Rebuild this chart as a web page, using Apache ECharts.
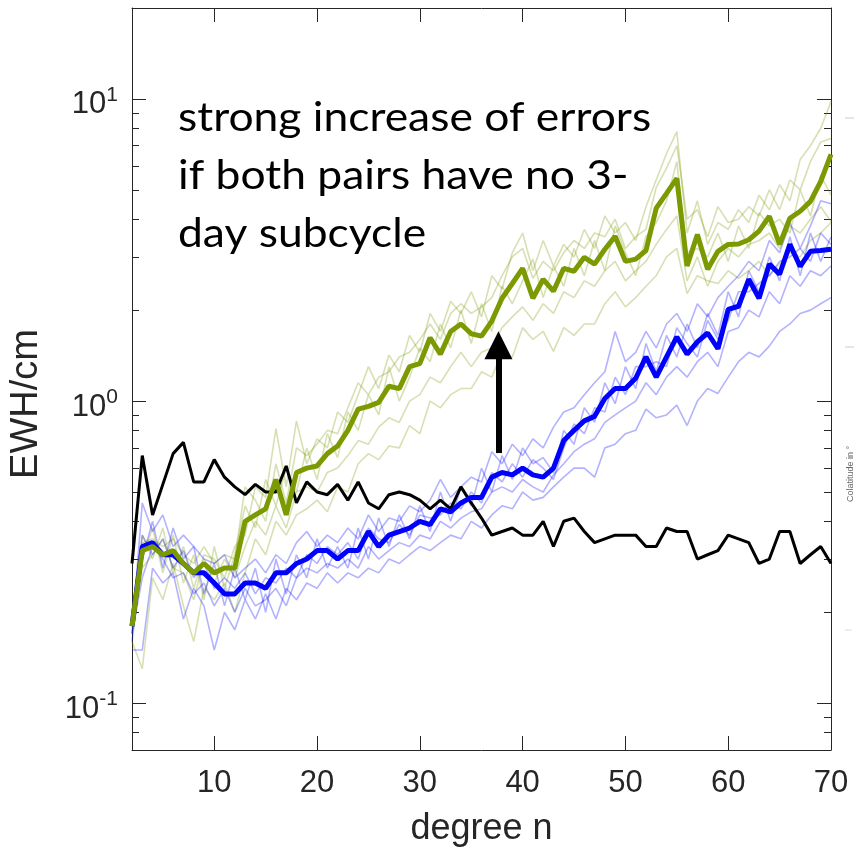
<!DOCTYPE html>
<html>
<head>
<meta charset="utf-8">
<script src="https://cdn.jsdelivr.net/npm/echarts@6/dist/echarts.min.js"></script>
<style>
  html, body { margin: 0; padding: 0; background: #fff; }
  #chart { width: 854px; height: 853px; }
</style>
</head>
<body>
<div id="chart"></div>
<script>
// Spherical harmonic degree
const degrees = [2, 3, 4, 5, 6, 7, 8, 9, 10, 11,
  12, 13, 14, 15, 16, 17, 18, 19, 20, 21,
  22, 23, 24, 25, 26, 27, 28, 29, 30, 31,
  32, 33, 34, 35, 36, 37, 38, 39, 40, 41,
  42, 43, 44, 45, 46, 47, 48, 49, 50, 51,
  52, 53, 54, 55, 56, 57, 58, 59, 60, 61,
  62, 63, 64, 65, 66, 67, 68, 69, 70];

// Reference error curve (black)
const errBlack = [0.29, 0.66, 0.42, 0.53, 0.67, 0.73, 0.54, 0.54, 0.64, 0.56,
  0.52, 0.49, 0.53, 0.50, 0.50, 0.61, 0.46, 0.54, 0.50, 0.49,
  0.53, 0.47, 0.54, 0.46, 0.44, 0.49, 0.50, 0.49, 0.47, 0.44,
  0.47, 0.44, 0.52, 0.46, 0.41, 0.36, 0.37, 0.38, 0.36, 0.36,
  0.40, 0.33, 0.40, 0.41, 0.37, 0.34, 0.35, 0.36, 0.36, 0.36,
  0.33, 0.33, 0.38, 0.37, 0.37, 0.30, 0.31, 0.32, 0.36, 0.35,
  0.34, 0.29, 0.30, 0.37, 0.37, 0.29, 0.31, 0.33, 0.29];

// Mean errors, no 3-day subcycle (green)
const errGreenMean = [0.18, 0.32, 0.33, 0.31, 0.32, 0.29, 0.27, 0.29, 0.27, 0.28,
  0.28, 0.40, 0.42, 0.44, 0.55, 0.42, 0.58, 0.60, 0.61, 0.67,
  0.71, 0.80, 0.94, 0.96, 0.99, 1.12, 1.10, 1.30, 1.33, 1.62,
  1.43, 1.70, 1.80, 1.67, 1.64, 1.84, 2.19, 2.45, 2.75, 2.19,
  2.53, 2.31, 2.75, 2.69, 2.99, 2.84, 3.18, 3.51, 2.90, 2.95,
  3.15, 4.35, 4.87, 5.46, 2.80, 3.56, 2.73, 3.13, 3.30, 3.31,
  3.42, 3.65, 4.09, 3.30, 4.03, 4.25, 4.58, 5.33, 6.55];

// Individual scenarios, no 3-day subcycle (light green)
const errGreen1 = [0.19, 0.36, 0.30, 0.38, 0.27, 0.33, 0.24, 0.31, 0.30, 0.26,
  0.33, 0.36, 0.52, 0.48, 0.81, 0.52, 0.86, 0.62, 0.75, 0.70,
  0.92, 0.85, 1.05, 1.30, 1.10, 1.42, 1.25, 1.65, 1.45, 1.95,
  1.70, 2.14, 1.95, 2.30, 1.90, 2.60, 2.35, 3.10, 3.60, 2.70,
  3.40, 2.80, 3.30, 3.00, 3.70, 3.20, 4.10, 3.60, 3.90, 3.40,
  4.40, 5.40, 6.60, 7.80, 3.60, 4.60, 3.30, 3.90, 3.70, 4.30,
  3.90, 4.80, 4.30, 5.20, 4.60, 6.30, 7.00, 8.00, 9.80];
const errGreen2 = [0.16, 0.13, 0.26, 0.22, 0.29, 0.21, 0.16, 0.24, 0.22, 0.25,
  0.20, 0.27, 0.35, 0.31, 0.40, 0.36, 0.42, 0.44, 0.47, 0.43,
  0.52, 0.50, 0.62, 0.67, 0.64, 0.71, 0.70, 0.83, 0.78, 1.00,
  0.95, 1.05, 1.10, 1.10, 1.25, 1.20, 1.45, 1.40, 1.75, 1.60,
  1.70, 1.46, 1.75, 1.65, 1.80, 1.80, 2.10, 2.30, 2.05, 2.20,
  2.40, 2.60, 3.00, 3.20, 2.27, 2.60, 2.50, 2.45, 2.70, 2.55,
  2.70, 2.90, 2.60, 2.85, 3.10, 3.00, 3.40, 3.60, 3.90];
const errGreen3 = [0.18, 0.30, 0.38, 0.27, 0.36, 0.25, 0.31, 0.22, 0.33, 0.24,
  0.31, 0.45, 0.38, 0.55, 0.45, 0.60, 0.50, 0.70, 0.55, 0.78,
  0.65, 0.92, 0.80, 1.05, 0.90, 1.30, 1.00, 1.20, 1.50, 1.35,
  1.80, 1.50, 2.00, 1.55, 2.10, 1.70, 2.40, 2.10, 2.50, 2.95,
  2.20, 2.80, 2.40, 3.20, 2.60, 3.40, 2.70, 3.80, 3.10, 2.60,
  3.50, 3.90, 4.60, 6.20, 3.10, 3.20, 3.00, 3.60, 2.90, 3.80,
  3.20, 4.20, 3.80, 4.00, 3.60, 5.00, 4.10, 5.60, 4.80];
const errGreen4 = [0.20, 0.34, 0.35, 0.33, 0.35, 0.31, 0.29, 0.33, 0.29, 0.31,
  0.30, 0.52, 0.47, 0.40, 0.62, 0.46, 0.70, 0.66, 0.72, 0.80,
  0.78, 0.95, 1.15, 1.05, 1.20, 1.25, 1.40, 1.45, 1.60, 1.80,
  1.60, 1.95, 2.10, 1.95, 2.05, 2.20, 2.60, 3.00, 3.20, 2.55,
  2.90, 2.70, 3.10, 3.40, 3.20, 3.60, 3.50, 4.00, 3.20, 3.50,
  3.70, 5.10, 5.90, 7.00, 4.00, 4.30, 3.50, 4.40, 3.90, 4.00,
  4.40, 4.10, 5.00, 4.30, 5.40, 5.00, 6.20, 7.20, 7.40];
const errGreen5 = [0.17, 0.28, 0.31, 0.35, 0.28, 0.27, 0.22, 0.30, 0.25, 0.30,
  0.26, 0.33, 0.40, 0.36, 0.45, 0.38, 0.50, 0.52, 0.50, 0.58,
  0.60, 0.66, 0.74, 0.72, 0.82, 0.88, 0.85, 1.00, 1.05, 1.20,
  1.15, 1.30, 1.45, 1.30, 1.45, 1.50, 1.75, 1.90, 2.05, 1.85,
  2.10, 1.95, 2.30, 2.20, 2.50, 2.40, 2.70, 2.90, 2.50, 2.70,
  2.90, 3.30, 3.70, 4.10, 2.50, 3.00, 2.40, 2.90, 3.20, 3.00,
  3.30, 3.40, 3.60, 3.20, 3.80, 3.60, 4.00, 4.40, 3.93];

// Mean errors, with 3-day subcycle (blue)
const errBlueMean = [0.18, 0.33, 0.34, 0.31, 0.31, 0.29, 0.27, 0.27, 0.25, 0.23,
  0.23, 0.25, 0.25, 0.24, 0.27, 0.27, 0.29, 0.30, 0.32, 0.32,
  0.30, 0.32, 0.32, 0.37, 0.33, 0.36, 0.37, 0.38, 0.40, 0.39,
  0.44, 0.43, 0.46, 0.48, 0.48, 0.56, 0.58, 0.57, 0.60, 0.57,
  0.56, 0.60, 0.74, 0.80, 0.86, 0.89, 1.02, 1.10, 1.10, 1.19,
  1.40, 1.20, 1.40, 1.63, 1.43, 1.57, 1.68, 1.49, 2.01, 2.06,
  2.53, 2.19, 2.84, 2.63, 3.30, 2.79, 3.13, 3.15, 3.18];

// Individual scenarios, with 3-day subcycle (light blue)
const errBlue1 = [0.17, 0.46, 0.37, 0.42, 0.33, 0.36, 0.33, 0.30, 0.29, 0.31,
  0.26, 0.28, 0.30, 0.27, 0.31, 0.29, 0.34, 0.37, 0.33, 0.36,
  0.34, 0.38, 0.35, 0.42, 0.37, 0.41, 0.40, 0.45, 0.43, 0.47,
  0.55, 0.48, 0.52, 0.56, 0.54, 0.68, 0.62, 0.72, 0.66, 0.75,
  0.70, 0.82, 0.92, 0.95, 1.05, 1.15, 1.25, 1.70, 1.35, 1.45,
  1.70, 1.50, 1.80, 1.95, 1.70, 2.10, 1.90, 2.20, 2.40, 2.60,
  2.90, 2.70, 3.40, 3.10, 3.90, 3.20, 3.80, 4.60, 4.50];
const errBlue2 = [0.15, 0.15, 0.28, 0.25, 0.27, 0.19, 0.24, 0.21, 0.15, 0.20,
  0.175, 0.22, 0.19, 0.23, 0.19, 0.24, 0.22, 0.25, 0.24, 0.27,
  0.25, 0.27, 0.26, 0.28, 0.27, 0.30, 0.29, 0.31, 0.33, 0.32,
  0.34, 0.36, 0.35, 0.40, 0.38, 0.42, 0.45, 0.44, 0.50, 0.47,
  0.48, 0.52, 0.56, 0.60, 0.60, 0.56, 0.70, 0.72, 0.78, 0.80,
  0.94, 0.88, 0.90, 0.97, 0.83, 1.00, 1.10, 1.06, 1.20, 1.35,
  1.45, 1.40, 1.52, 1.70, 1.80, 1.95, 2.00, 2.10, 2.20];
const errBlue3 = [0.16, 0.30, 0.40, 0.28, 0.38, 0.30, 0.33, 0.23, 0.29, 0.21,
  0.28, 0.22, 0.28, 0.20, 0.30, 0.23, 0.31, 0.26, 0.35, 0.28,
  0.33, 0.28, 0.38, 0.30, 0.41, 0.33, 0.42, 0.35, 0.45, 0.37,
  0.50, 0.40, 0.52, 0.45, 0.60, 0.50, 0.66, 0.55, 0.70, 0.62,
  0.65, 0.58, 0.80, 0.72, 0.95, 0.85, 1.15, 0.98, 1.30, 1.10,
  1.55, 1.25, 1.65, 1.40, 1.80, 1.50, 1.95, 1.65, 2.30, 1.90,
  2.70, 2.30, 3.00, 2.50, 3.50, 2.60, 3.60, 2.90, 3.50];
const errBlue4 = [0.18, 0.36, 0.31, 0.35, 0.28, 0.32, 0.26, 0.29, 0.24, 0.26,
  0.24, 0.27, 0.23, 0.26, 0.25, 0.28, 0.26, 0.31, 0.29, 0.33,
  0.31, 0.34, 0.30, 0.38, 0.35, 0.34, 0.39, 0.36, 0.42, 0.41,
  0.42, 0.46, 0.44, 0.50, 0.46, 0.58, 0.54, 0.62, 0.56, 0.64,
  0.60, 0.55, 0.70, 0.84, 0.78, 0.95, 0.92, 1.20, 1.05, 1.30,
  1.30, 1.35, 1.30, 1.75, 1.55, 1.40, 1.85, 1.60, 1.85, 2.30,
  2.30, 2.45, 2.60, 2.90, 3.00, 3.20, 2.90, 3.60, 3.30];
const errBlue5 = [0.17, 0.26, 0.33, 0.30, 0.26, 0.27, 0.23, 0.25, 0.21, 0.24,
  0.20, 0.24, 0.21, 0.22, 0.24, 0.21, 0.26, 0.28, 0.27, 0.29,
  0.28, 0.30, 0.28, 0.33, 0.30, 0.32, 0.34, 0.33, 0.36, 0.35,
  0.40, 0.38, 0.41, 0.43, 0.44, 0.50, 0.52, 0.50, 0.55, 0.52,
  0.50, 0.57, 0.62, 0.68, 0.72, 0.75, 0.85, 0.90, 0.95, 1.00,
  1.15, 1.05, 1.20, 1.30, 1.20, 1.35, 1.45, 1.30, 1.70, 1.75,
  2.00, 1.90, 2.30, 2.10, 2.60, 2.40, 2.70, 2.60, 2.80];

// Axis ticks
const xTickValues = [10, 20, 30, 40, 50, 60, 70];
const yMinorTicks = [0.08, 0.09, 0.2, 0.3, 0.4, 0.5, 0.6, 0.7, 0.8, 0.9,
  2, 3, 4, 5, 6, 7, 8, 9];

// Annotation
const noteLines = ['strong increase of errors', 'if both pairs have no 3-', 'day subcycle'];
const arrowDegree = 37.65;
const arrowFrom = 0.673;
const arrowTo = 1.53;

const AXIS_COLOR = '#262626';
const GREEN = '#7b9900';
const BLUE = '#0000ff';
const yMin = 0.07, yMax = 20;

const pts = vals => degrees.map((n, i) => [n, vals[i]]);

function thin(vals, color) {
  return {
    type: 'line', data: pts(vals), symbol: 'none', silent: true,
    lineStyle: { color: color, width: 1.6, opacity: 0.3 },
    xAxisIndex: 0, yAxisIndex: 0, animation: false
  };
}

const chart = echarts.init(document.getElementById('chart'), null, { renderer: 'canvas' });

// Minor log ticks, placed on a linear axis spanning log10 of the same range
const sideMinor = (pos) => ({
  type: 'value', position: pos, min: Math.log10(yMin), max: Math.log10(yMax),
  axisLine: { show: false },
  axisTick: { show: true, inside: true, length: 7, customValues: yMinorTicks.map(v => Math.log10(v)),
    lineStyle: { color: AXIS_COLOR, width: 1 } },
  axisLabel: { show: false }, splitLine: { show: false }
});

chart.setOption({
  animation: false,
  backgroundColor: '#fff',
  grid: { left: 132, right: 23, top: 8, bottom: 103, containLabel: false },
  xAxis: [
    {
      type: 'value', min: 2, max: 70, position: 'bottom',
      name: 'degree n', nameLocation: 'middle', nameGap: 61,
      nameTextStyle: { fontFamily: 'Liberation Sans', fontSize: 36, color: AXIS_COLOR },
      axisLine: { onZero: false, lineStyle: { color: AXIS_COLOR, width: 1 } },
      axisTick: { inside: true, length: 14, customValues: xTickValues, lineStyle: { color: AXIS_COLOR } },
      axisLabel: { customValues: xTickValues, fontFamily: 'Liberation Sans', fontSize: 31, color: AXIS_COLOR, margin: 18 },
      splitLine: { show: false }
    },
    {
      type: 'value', min: 2, max: 70, position: 'top',
      axisLine: { onZero: false, lineStyle: { color: AXIS_COLOR, width: 1 } },
      axisTick: { inside: true, length: 14, customValues: xTickValues, lineStyle: { color: AXIS_COLOR } },
      axisLabel: { show: false }, splitLine: { show: false }
    }
  ],
  yAxis: [
    {
      type: 'log', logBase: 10, min: yMin, max: yMax, position: 'left',
      name: 'EWH/cm', nameLocation: 'middle', nameGap: 86, nameRotate: 90,
      nameTextStyle: { fontFamily: 'Liberation Sans', fontSize: 38, color: AXIS_COLOR, padding: [0, 50, 0, 0] },
      axisLine: { onZero: false, lineStyle: { color: AXIS_COLOR, width: 1 } },
      axisTick: { inside: true, length: 14, lineStyle: { color: AXIS_COLOR } },
      axisLabel: {
        showMinLabel: false, showMaxLabel: false, margin: 14, padding: [12, 0, 0, 0],
        formatter: v => '{b|10}{s|' + Math.round(Math.log10(v)) + '}',
        rich: {
          b: { fontFamily: 'Liberation Sans', fontSize: 31, color: AXIS_COLOR, lineHeight: 40 },
          s: { fontFamily: 'Liberation Sans', fontSize: 21, color: AXIS_COLOR, lineHeight: 22, verticalAlign: 'top' }
        }
      },
      splitLine: { show: false }
    },
    {
      type: 'log', logBase: 10, min: yMin, max: yMax, position: 'right',
      axisLine: { onZero: false, lineStyle: { color: AXIS_COLOR, width: 1 } },
      axisTick: { inside: true, length: 14, lineStyle: { color: AXIS_COLOR } },
      axisLabel: { show: false }, splitLine: { show: false }
    },
    sideMinor('left'),
    sideMinor('right')
  ],
  series: [
    thin(errGreen1, GREEN), thin(errGreen2, GREEN), thin(errGreen3, GREEN),
    thin(errGreen4, GREEN), thin(errGreen5, GREEN),
    thin(errBlue1, BLUE), thin(errBlue2, BLUE), thin(errBlue3, BLUE),
    thin(errBlue4, BLUE), thin(errBlue5, BLUE),
    {
      type: 'line', data: pts(errBlack), symbol: 'none', silent: true,
      lineStyle: { color: '#000', width: 3 },
      markLine: {
        silent: true, animation: false,
        symbol: ['none', 'triangle'], symbolSize: [28, 28],
        lineStyle: { color: '#000', width: 6, type: 'solid' },
        label: { show: false },
        emphasis: { disabled: true },
        data: [[{ coord: [arrowDegree, arrowFrom] }, { coord: [arrowDegree, arrowTo] }]]
      }
    },
    {
      type: 'line', data: pts(errBlueMean), symbol: 'none', silent: true,
      lineStyle: { color: BLUE, width: 5 }
    },
    {
      type: 'line', data: pts(errGreenMean), symbol: 'none', silent: true,
      lineStyle: { color: GREEN, width: 5 }
    }
  ],
  graphic: [
    {
      type: 'text', x: 178, y: 89, scaleX: 1.11, silent: true,
      style: { text: noteLines.join('\n'), font: '40px Lato', lineHeight: 58, fill: '#000',
        textAlign: 'left', textVerticalAlign: 'top' }
    },
    { type: 'line', silent: true, shape: { x1: 845, y1: 118, x2: 854, y2: 118 }, style: { stroke: '#cccccc', lineWidth: 1 } },
    { type: 'line', silent: true, shape: { x1: 845, y1: 347, x2: 854, y2: 347 }, style: { stroke: '#cccccc', lineWidth: 1 } },
    { type: 'line', silent: true, shape: { x1: 845, y1: 630, x2: 852, y2: 630 }, style: { stroke: '#dddddd', lineWidth: 1 } },
    {
      type: 'text', x: 846, y: 502, rotation: Math.PI / 2, silent: true,
      style: { text: 'Colatitude in °', font: '9px Liberation Sans', fill: '#666', textAlign: 'left', textVerticalAlign: 'top' }
    }
  ]
});
</script>
</body>
</html>
